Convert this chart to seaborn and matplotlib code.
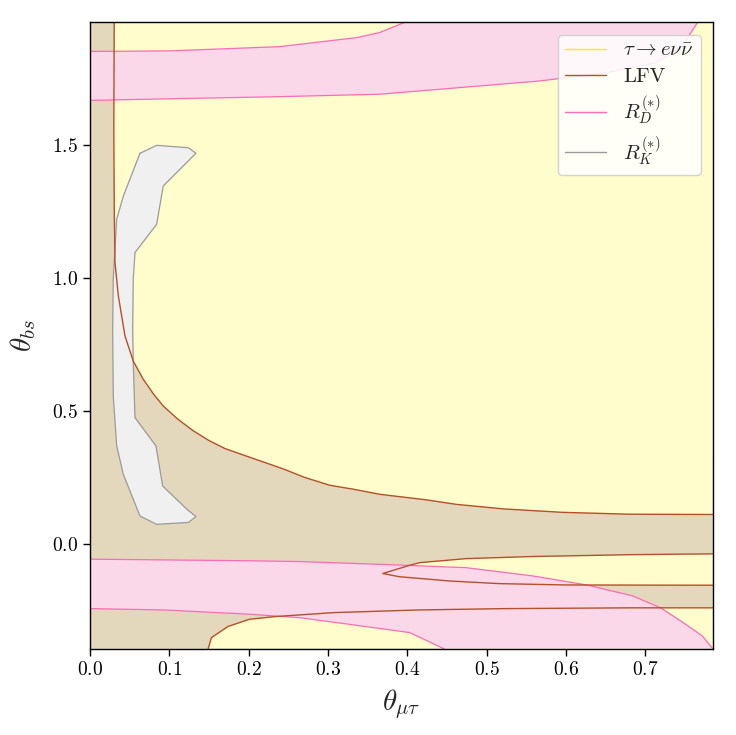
import numpy as np
import matplotlib
matplotlib.use("Agg")
import matplotlib.pyplot as plt
import seaborn as sns
from matplotlib.lines import Line2D
from matplotlib.ticker import MultipleLocator

# axis ranges
x_max = np.pi / 4
y_min, y_max = -np.pi / 8, 5 * np.pi / 8

# LFV boundary: big allowed region (upper right)
lfv_main_x = [0.0305, 0.0300, 0.0306, 0.0315, 0.0357, 0.0441, 0.0546, 0.0672, 0.080, 0.0923,
              0.110, 0.130, 0.150, 0.170, 0.2015, 0.243, 0.270, 0.302, 0.332, 0.365,
              0.424, 0.462, 0.521, 0.596, 0.680, 0.785]
lfv_main_y = [1.963, 1.560, 1.248, 1.060, 0.934, 0.783, 0.688, 0.620, 0.565, 0.520,
              0.472, 0.427, 0.390, 0.360, 0.327, 0.284, 0.252, 0.222, 0.207, 0.188,
              0.167, 0.150, 0.133, 0.120, 0.113, 0.112]

# LFV boundary: tongue-shaped allowed region
lfv_tongue_x = [0.785, 0.684, 0.558, 0.474, 0.416, 0.403, 0.369, 0.390, 0.453, 0.516, 0.600, 0.785]
lfv_tongue_y = [-0.036, -0.039, -0.046, -0.054, -0.069, -0.079, -0.110, -0.122, -0.138, -0.148, -0.153, -0.154]

# LFV boundary: allowed region at the bottom
lfv_low_x = [0.149, 0.153, 0.174, 0.201, 0.233, 0.307, 0.414, 0.521, 0.681, 0.785]
lfv_low_y = [-0.3927, -0.351, -0.309, -0.282, -0.272, -0.257, -0.247, -0.242, -0.239, -0.239]

# R_D band, upper one
rd_hi_top_x = [0.0, 0.1, 0.239, 0.336, 0.365, 0.397]
rd_hi_top_y = [1.853, 1.855, 1.871, 1.905, 1.924, 1.963]
rd_hi_bot_x = [0.0, 0.239, 0.365, 0.567, 0.651, 0.714, 0.747, 0.766]
rd_hi_bot_y = [1.669, 1.683, 1.692, 1.742, 1.773, 1.811, 1.874, 1.963]

# R_D band, lower one
rd_lo_top_x = [0.0, 0.2, 0.264, 0.39, 0.474, 0.558, 0.626, 0.684, 0.720, 0.751, 0.772, 0.785]
rd_lo_top_y = [-0.056, -0.062, -0.065, -0.078, -0.088, -0.119, -0.153, -0.194, -0.240, -0.301, -0.345, -0.3927]
rd_lo_bot_x = [0.0, 0.094, 0.201, 0.264, 0.327, 0.403, 0.446]
rd_lo_bot_y = [-0.242, -0.247, -0.263, -0.276, -0.301, -0.332, -0.3927]

# R_K region
rk_x = [0.063, 0.084, 0.124, 0.1335, 0.0923, 0.084, 0.0567, 0.0545, 0.0538, 0.0545,
        0.0567, 0.0831, 0.0916, 0.122, 0.1335, 0.124, 0.084, 0.063, 0.042, 0.0336,
        0.0293, 0.0286, 0.0293, 0.0336, 0.042, 0.063]
rk_y = [1.470, 1.500, 1.491, 1.470, 1.347, 1.203, 1.097, 0.996, 0.808, 0.683,
        0.476, 0.370, 0.219, 0.132, 0.104, 0.082, 0.075, 0.106, 0.263, 0.370,
        0.558, 0.808, 0.996, 1.222, 1.309, 1.470]

c_yellow = "#FFFDCB"
c_tan = "#E3D8BC"
c_pink = "#FBD7EA"
c_pink_line = "#F86CB8"
c_lfv = "#B4502A"
c_gray = "#F0F0F0"
c_gray_line = "#9A9A9A"

sns.set_theme(style="ticks")
plt.rcParams.update({
    "font.family": "serif",
    "font.serif": ["cmr10"],
    "mathtext.fontset": "cm",
    "axes.formatter.use_mathtext": True,
    "axes.unicode_minus": False,
})

fig, ax = plt.subplots(figsize=(7.36, 7.35), dpi=100)
fig.subplots_adjust(left=0.1223, right=0.9688, bottom=0.1174, top=0.970)
ax.set_facecolor(c_tan)

# allowed (yellow) regions
ax.fill(lfv_main_x + [x_max], lfv_main_y + [y_max], color=c_yellow, lw=0)
ax.fill(lfv_tongue_x, lfv_tongue_y, color=c_yellow, lw=0)
ax.fill(lfv_low_x + [x_max], lfv_low_y + [y_min], color=c_yellow, lw=0)

# R_D bands
ax.fill(rd_hi_top_x + rd_hi_bot_x[::-1], rd_hi_top_y + rd_hi_bot_y[::-1], color=c_pink, lw=0)
ax.fill(rd_lo_top_x + rd_lo_bot_x[::-1], rd_lo_top_y + rd_lo_bot_y[::-1], color=c_pink, lw=0)

# R_K region
ax.fill(rk_x, rk_y, color=c_gray, lw=0)

# boundary lines
for xs, ys in [(rd_hi_top_x, rd_hi_top_y), (rd_hi_bot_x, rd_hi_bot_y),
               (rd_lo_top_x, rd_lo_top_y), (rd_lo_bot_x, rd_lo_bot_y)]:
    sns.lineplot(x=xs, y=ys, sort=False, estimator=None, color=c_pink_line, lw=0.9, ax=ax)
sns.lineplot(x=rk_x, y=rk_y, sort=False, estimator=None, color=c_gray_line, lw=0.9, ax=ax)
for xs, ys in [(lfv_main_x, lfv_main_y), (lfv_tongue_x, lfv_tongue_y), (lfv_low_x, lfv_low_y)]:
    sns.lineplot(x=xs, y=ys, sort=False, estimator=None, color=c_lfv, lw=1.0, ax=ax)

ax.set_xlim(0, x_max)
ax.set_ylim(y_min, y_max)
ax.xaxis.set_major_locator(MultipleLocator(0.1))
ax.yaxis.set_major_locator(MultipleLocator(0.5))
ax.tick_params(labelsize=14, length=5, width=1, colors="black")
for s in ax.spines.values():
    s.set_color("black")
    s.set_linewidth(1.0)

ax.set_xlabel(r"$\theta_{\mu\tau}$", fontsize=21, labelpad=6)
ax.set_ylabel(r"$\theta_{bs}$", fontsize=21, labelpad=10)

handles = [
    Line2D([], [], color="#FFEE00", lw=1.0, label=r"$\tau\to e\nu\bar{\nu}$"),
    Line2D([], [], color=c_lfv, lw=1.0, label="LFV"),
    Line2D([], [], color=c_pink_line, lw=1.0, label=r"$R_D^{(*)}$"),
    Line2D([], [], color=c_gray_line, lw=1.0, label=r"$R_K^{(*)}$"),
]
ax.legend(handles=handles, loc="upper right", fontsize=15, fancybox=True,
          framealpha=0.85, facecolor="white", edgecolor="#CCCCCC",
          borderaxespad=0.6, labelspacing=0.35, borderpad=0.35)

plt.savefig("out.png", dpi=100)
plt.close()
